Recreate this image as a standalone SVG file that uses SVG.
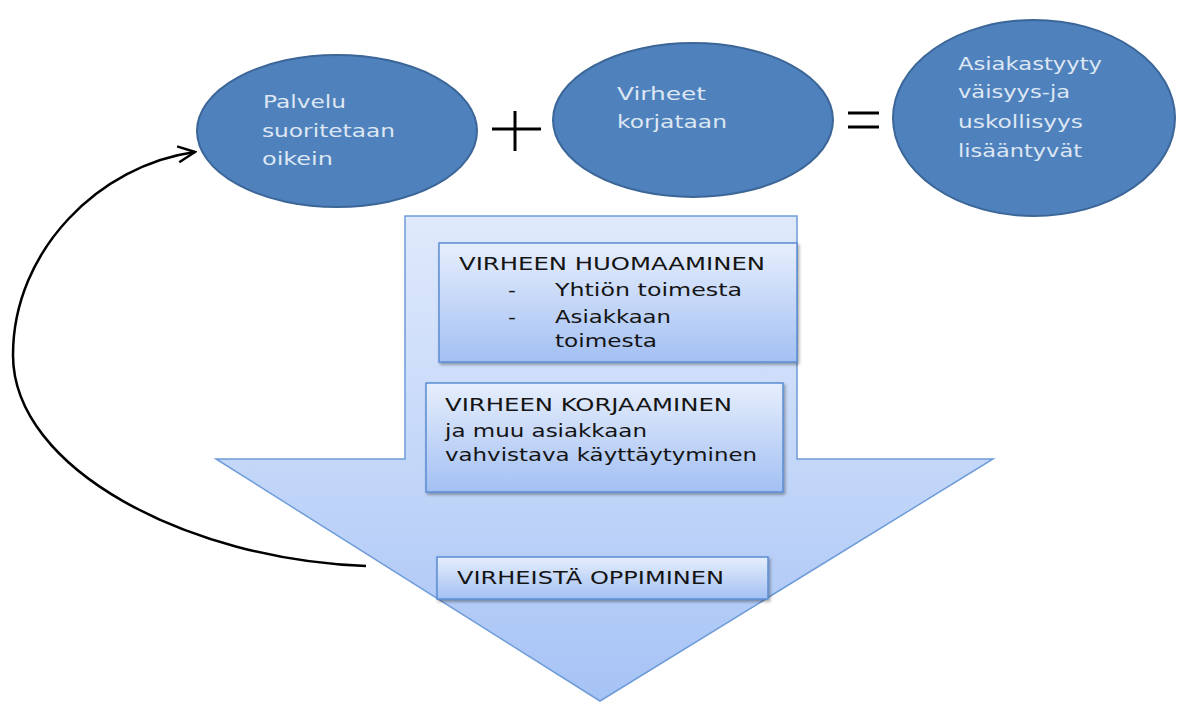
<svg xmlns="http://www.w3.org/2000/svg" width="1182" height="704" viewBox="0 0 1182 704">
<defs>
<style>
.ell{fill:#4f81bd;stroke:#3b6697;stroke-width:2}
.et{font-family:"DejaVu Sans",sans-serif;font-size:17px;fill:#dde7f3}
.bx{fill:url(#boxg);stroke:#5b8dd4;stroke-width:1.5;filter:url(#sh)}
.bt{font-family:"DejaVu Sans",sans-serif;font-size:17px;fill:#141414}
.op{stroke:#000;stroke-width:3;fill:none}
.conn{fill:none;stroke:#000;stroke-width:2.5}
</style>
<linearGradient id="arrg" gradientUnits="userSpaceOnUse" x1="0" y1="216" x2="0" y2="702">
<stop offset="0" stop-color="#dfe9fb"/>
<stop offset="0.5" stop-color="#c4d7f9"/>
<stop offset="1" stop-color="#a6c3f5"/>
</linearGradient>
<linearGradient id="boxg" x1="0" y1="0" x2="0" y2="1">
<stop offset="0" stop-color="#e6eefc"/>
<stop offset="1" stop-color="#a3c0f3"/>
</linearGradient>
<filter id="sh" x="-5%" y="-10%" width="115%" height="130%">
<feDropShadow dx="1.5" dy="2" stdDeviation="1.5" flood-color="#000" flood-opacity="0.35"/>
</filter>
<marker id="ah" viewBox="-20 -11 22 22" markerWidth="22" markerHeight="22" refX="0" refY="0" markerUnits="userSpaceOnUse" orient="auto">
<path d="M-17,-8 L0,0 L-17,8" fill="none" stroke="#000" stroke-width="2.5"/>
</marker>
</defs>
<rect width="1182" height="704" fill="#fff"/>

<g id="big-arrow">
<polygon points="405,216 797,216 797,459 993,459 600,701 216,459 405,459" fill="url(#arrg)" stroke="#6e9cd8" stroke-width="1.5"/>
</g>

<g id="node-palvelu">
<ellipse class="ell" cx="337" cy="131" rx="140" ry="76"/>
<text class="et" x="263" y="108" textLength="83" lengthAdjust="spacingAndGlyphs">Palvelu</text>
<text class="et" x="262" y="137" textLength="133" lengthAdjust="spacingAndGlyphs">suoritetaan</text>
<text class="et" x="262" y="165" textLength="71" lengthAdjust="spacingAndGlyphs">oikein</text>
</g>

<g id="plus">
<line class="op" x1="492" y1="129" x2="541" y2="129"/>
<line class="op" x1="515" y1="111" x2="515" y2="151"/>
</g>

<g id="node-virheet">
<ellipse class="ell" cx="693" cy="120" rx="140" ry="77"/>
<text class="et" x="617" y="100" textLength="89" lengthAdjust="spacingAndGlyphs">Virheet</text>
<text class="et" x="617" y="128" textLength="110" lengthAdjust="spacingAndGlyphs">korjataan</text>
</g>

<g id="equals">
<line class="op" x1="848" y1="113" x2="879" y2="113"/>
<line class="op" x1="848" y1="127" x2="879" y2="127"/>
</g>

<g id="node-asiakas">
<ellipse class="ell" cx="1034" cy="118" rx="141" ry="98"/>
<text class="et" x="958" y="70" textLength="144" lengthAdjust="spacingAndGlyphs">Asiakastyyty</text>
<text class="et" x="958" y="98" textLength="112" lengthAdjust="spacingAndGlyphs">väisyys-ja</text>
<text class="et" x="958" y="128" textLength="125" lengthAdjust="spacingAndGlyphs">uskollisyys</text>
<text class="et" x="958" y="157" textLength="124" lengthAdjust="spacingAndGlyphs">lisääntyvät</text>
</g>

<g id="box-huomaaminen">
<rect class="bx" x="439" y="243" width="358" height="119"/>
<text class="bt" x="459" y="270" textLength="306" lengthAdjust="spacingAndGlyphs">VIRHEEN HUOMAAMINEN</text>
<text class="bt" x="508" y="296" textLength="8" lengthAdjust="spacingAndGlyphs">-</text>
<text class="bt" x="555" y="296" textLength="187" lengthAdjust="spacingAndGlyphs">Yhtiön toimesta</text>
<text class="bt" x="508" y="323" textLength="8" lengthAdjust="spacingAndGlyphs">-</text>
<text class="bt" x="555" y="323" textLength="116" lengthAdjust="spacingAndGlyphs">Asiakkaan</text>
<text class="bt" x="555" y="347" textLength="102" lengthAdjust="spacingAndGlyphs">toimesta</text>
</g>

<g id="box-korjaaminen">
<rect class="bx" x="426" y="383" width="357" height="109"/>
<text class="bt" x="445" y="411" textLength="287" lengthAdjust="spacingAndGlyphs">VIRHEEN KORJAAMINEN</text>
<text class="bt" x="445" y="437" textLength="202" lengthAdjust="spacingAndGlyphs">ja muu asiakkaan</text>
<text class="bt" x="445" y="461" textLength="312" lengthAdjust="spacingAndGlyphs">vahvistava käyttäytyminen</text>
</g>

<g id="box-oppiminen">
<rect class="bx" x="437" y="557" width="331" height="42"/>
<text class="bt" x="457" y="584" font-size="16" textLength="267" lengthAdjust="spacingAndGlyphs">VIRHEISTÄ OPPIMINEN</text>
</g>

<g id="connectors">
<path class="conn" d="M366,566 C190,560 13,470 13,355 C13,250 100,165 195,152" marker-end="url(#ah)"/>
</g>
</svg>
